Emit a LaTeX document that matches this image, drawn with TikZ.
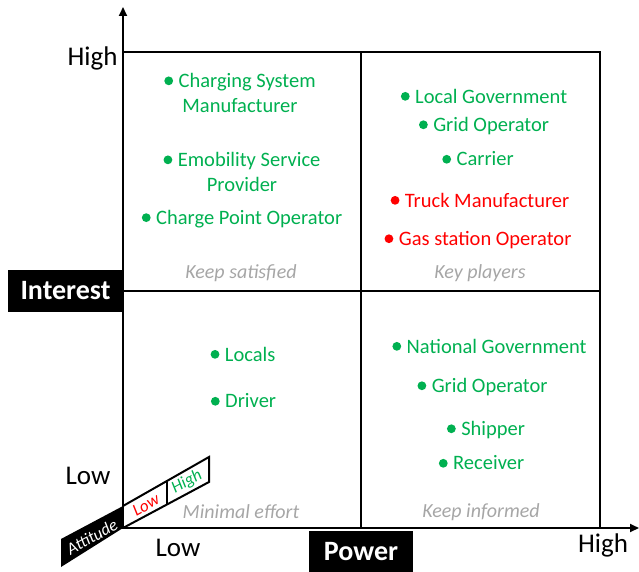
\documentclass[tikz,border=0pt]{standalone}
\usepackage{fontspec}
\setmainfont{Carlito}
\usetikzlibrary{arrows.meta}
\definecolor{itgreen}{RGB}{0,176,80}
\definecolor{itred}{RGB}{255,0,0}
\definecolor{qgray}{RGB}{166,166,166}
\newcommand{\bul}[1]{\tikz[baseline=0pt,x=1pt,y=1pt]\fill[#1] (0pt,6.7pt) circle (4.4pt);\hspace{5.5pt}}
\tikzset{
  quad/.style={draw=black,line width=2pt},
  axis/.style={line width=2pt,-{Triangle[length=9pt,width=8pt]}},
  item/.style={text=itgreen,font=\fontsize{20.5}{25}\selectfont,align=center,inner sep=0pt},
  reditem/.style={item,text=itred},
  qlabel/.style={text=qgray,font=\fontsize{20}{24}\selectfont\itshape,inner sep=0pt},
  axlabel/.style={font=\fontsize{27}{30}\selectfont,inner sep=0pt},
  blackbox/.style={fill=black,draw=none},
  boxtext/.style={text=white,font=\fontsize{28}{30}\selectfont\bfseries,inner sep=0pt},
  atttext/.style={font=\fontsize{17}{18}\selectfont\itshape,inner sep=0pt,rotate=29},
}
\begin{document}
\begin{tikzpicture}[x=1pt,y=-1pt]
\useasboundingbox (0,0) rectangle (639,572);
% quadrants
\draw[quad] (123,52) rectangle (361,291);
\draw[quad] (361,52) rectangle (600,291);
\draw[quad] (123,291) rectangle (361,528);
\draw[quad] (361,291) rectangle (600,528);
% axes
\coordinate (o) at (123,528);
\coordinate (ytop) at (123,7);
\coordinate (xend) at (639,528);
\draw[axis] (o) -- (ytop);
\draw[axis] (o) -- (xend);
% axis boxes
\fill[blackbox] (8,270) rectangle (123,312);
\node[boxtext] (interest) at (65.5,291) {Interest};
\fill[blackbox] (309,531) rectangle (413,572);
\node[boxtext] (power) at (361,552) {Power};
% axis labels
\node[axlabel] (yhigh) at (92.5,58) {High};
\node[axlabel] (ylow) at (88,476) {Low};
\node[axlabel] (xlow) at (178,548) {Low};
\node[axlabel] (xhigh) at (603,545) {High};
% attitude bar
\fill[black] (61,539) -- (123,506) -- (123,528) -- (61,567) -- cycle;
\draw[line width=2pt,line join=miter] (123,506) -- (209,457) -- (209,482) -- (123,528);
\draw[line width=2pt] (167,481) -- (167,504);
\node[atttext,text=white] (att) at (92,537) {Attitude};
\node[atttext,text=itred] (attlow) at (146,505) {Low};
\node[atttext,text=itgreen] (atthigh) at (187,482) {High};
% top-left
\node[item] (csm) at (240,93) {\bul{itgreen}Charging System\\Manufacturer};
\node[item] (esp) at (242,172) {\bul{itgreen}Emobility Service\\Provider};
\node[item] (cpo) at (242,219) {\bul{itgreen}Charge Point Operator};
\node[qlabel] (ks) at (241,273) {Keep satisfied};
% top-right
\node[item] (lg) at (484,96) {\bul{itgreen}Local Government};
\node[item] (go1) at (484,126) {\bul{itgreen}Grid Operator};
\node[item] (car) at (478,159) {\bul{itgreen}Carrier};
\node[reditem] (tm) at (480,200) {\bul{itred}Truck Manufacturer};
\node[reditem] (gso) at (478,240) {\bul{itred}Gas station Operator};
\node[qlabel] (kp) at (480,273) {Key players};
% bottom-left
\node[item] (loc) at (243,354) {\bul{itgreen}Locals};
\node[item] (drv) at (243.5,401) {\bul{itgreen}Driver};
\node[qlabel] (me) at (241,512) {Minimal effort};
% bottom-right
\node[item] (ng) at (489.5,346) {\bul{itgreen}National Government};
\node[item] (go2) at (482.5,387) {\bul{itgreen}Grid Operator};
\node[item] (shp) at (486,430) {\bul{itgreen}Shipper};
\node[item] (rec) at (481.5,463) {\bul{itgreen}Receiver};
\node[qlabel] (ki) at (481,512) {Keep informed};
\end{tikzpicture}
\end{document}
